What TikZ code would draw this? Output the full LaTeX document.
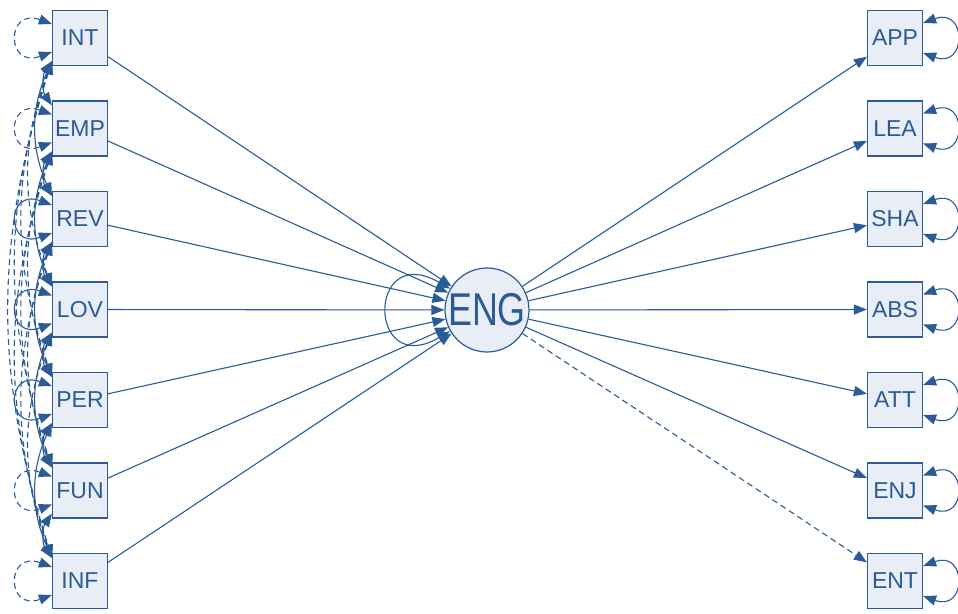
\documentclass[tikz,border=0pt]{standalone}
\usepackage{fontspec}
\setmainfont{Liberation Sans}
\usetikzlibrary{arrows.meta}
\definecolor{semblue}{HTML}{2B5B96}
\definecolor{boxfill}{HTML}{E9EDF5}
\begin{document}
\begin{tikzpicture}[x=1pt,y=1pt,
  >={Triangle[length=13pt,width=10pt]},
  var/.style={draw=semblue, fill=boxfill, line width=1.2pt, minimum width=55pt, minimum height=55pt, inner sep=0pt, text=semblue, font=\fontsize{23}{23}\selectfont},
  lat/.style={circle, draw=semblue, fill=boxfill, line width=1.2pt, minimum size=82pt, inner sep=0pt, text=semblue, font=\fontsize{46}{46}\selectfont},
  reg/.style={draw=semblue, line width=1.1pt, ->},
  cov/.style={draw=semblue, line width=1.1pt, <->},
  dsh/.style={dash pattern=on 6pt off 4pt}]
\useasboundingbox (0,0) rectangle (958,613);
\foreach \n/\t/\y in {1/INT/575, 2/EMP/484.5, 3/REV/394, 4/LOV/303.5, 5/PER/213, 6/FUN/122.5, 7/INF/32}
  \node[var] (L\n) at (80,\y) {\t};
\foreach \n/\t/\y in {1/APP/575, 2/LEA/484.5, 3/SHA/394, 4/ABS/303.5, 5/ATT/213, 6/ENJ/122.5, 7/ENT/32}
  \node[var] (R\n) at (895,\y) {\t};
\node[lat] (ENG) at (487,303) {\scalebox{0.78}[1]{ENG}};
% regressions
\foreach \n in {1,...,7} \draw[reg] (L\n) -- (ENG);
\foreach \n in {1,...,6} \draw[reg] (ENG) -- (R\n);
\draw[reg,dsh] (ENG) -- (R7);
% ENG variance
\draw[cov] (ENG.150) to[out=150,in=210,looseness=5.8] (ENG.210);
% right variances
\foreach \n in {1,...,7}
  \draw[cov] ([yshift=15pt]R\n.east) to[out=20,in=-20,looseness=4] ([yshift=-15pt]R\n.east);
% left variances
\foreach \n/\s in {1/dsh,2/dsh,3/solid,4/solid,5/solid,6/dsh,7/dsh}
  \draw[cov,\s] ([yshift=14pt]L\n.west) to[out=160,in=200,looseness=4.5] ([yshift=-14pt]L\n.west);
% covariances
\foreach \i in {1,...,6}{
  \pgfmathtruncatemacro\s{\i+1}
  \foreach \j in {\s,...,7}{
    \pgfmathtruncatemacro\dd{\j-\i}
    \pgfmathsetmacro\ang{14+20/\dd}
    \pgfmathsetmacro\outang{270-\ang}
    \pgfmathsetmacro\inang{90+\ang}
    \ifnum\dd>2 \def\sty{dsh}\else\def\sty{solid}\fi
    \draw[cov,\sty] ([yshift=5pt]L\i.south west) to[out=\outang,in=\inang] ([yshift=-5pt]L\j.north west);
  }
}
\end{tikzpicture}
\end{document}
